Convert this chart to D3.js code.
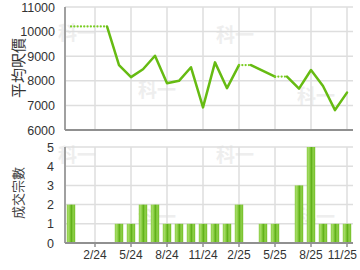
<!DOCTYPE html>
<html><head><meta charset="utf-8">
<script src="https://cdn.jsdelivr.net/npm/d3@7"></script>
<style>
html,body{margin:0;padding:0;background:#fff;}
svg{display:block;font-family:"Liberation Sans",Arial,sans-serif;}
</style></head>
<body><svg id="c" width="360" height="270"></svg>
<script>
const months = ["12/23","1/24","2/24","3/24","4/24","5/24","6/24","7/24","8/24","9/24","10/24","11/24",
  "12/24","1/25","2/25","3/25","4/25","5/25","6/25","7/25","8/25","9/25","10/25","11/25"];
const avgPrice = [10210,10210,10210,10210,8640,8150,8470,9020,7900,8000,8550,6920,
  8750,7700,8640,8640,8400,8170,8170,7680,8440,7790,6810,7520];
const deals = [2,0,0,0,1,1,2,2,1,1,1,1,1,1,2,0,1,1,0,3,5,1,1,1];
const xTickLabels = ["2/24","5/24","8/24","11/24","2/25","5/25","8/25","11/25"];
const priceTicks = [6000,7000,8000,9000,10000,11000];
const dealTicks = [0,1,2,3,4,5];
const priceTitle = "平均呎價";
const dealTitle = "成交宗數";
const watermark = "科一";

const svg = d3.select("#c");
const L = 65, R = 353;
const top1 = 7, bot1 = 130, top2 = 147, bot2 = 243;

const x = d3.scaleBand().domain(months).range([L, R]).paddingInner(0.3).paddingOuter(0.15);
const xc = m => x(m) + x.bandwidth()/2;
const y1 = d3.scaleLinear().domain([6000,11000]).range([bot1, top1]);
const y2 = d3.scaleLinear().domain([0,5]).range([bot2, top2]);

// watermarks
const wm = [[58,40],[138,97],[216,42],[297,103],[58,162],[138,224],[216,162],[297,224]];
svg.append("g").selectAll("text").data(wm).join("text")
  .attr("x",d=>d[0]).attr("y",d=>d[1]).text(watermark)
  .attr("font-size",19).attr("font-weight","bold").attr("fill","#eeeeee")
  .attr("font-family","'Noto Sans CJK TC',sans-serif");

function grid(y, ticks, yTop, yBot) {
  const g = svg.append("g");
  g.selectAll("line.h").data(ticks).join("line")
    .attr("x1", L).attr("x2", R).attr("y1", d=>y(d)).attr("y2", d=>y(d))
    .attr("stroke", "#dedede").attr("stroke-width", 1.5);
  g.selectAll("line.v").data(xTickLabels).join("line")
    .attr("x1", d=>xc(d)).attr("x2", d=>xc(d)).attr("y1", yTop).attr("y2", yBot)
    .attr("stroke", "#dedede").attr("stroke-width", 1.5);
}
grid(y1, priceTicks, top1, bot1);
grid(y2, dealTicks, top2, bot2);

// y axes
const ax1 = svg.append("g").attr("transform",`translate(${L},0)`)
  .call(d3.axisLeft(y1).tickValues(priceTicks).tickFormat(d3.format("d")).tickSize(0).tickPadding(10));
const ax2 = svg.append("g").attr("transform",`translate(${L},0)`)
  .call(d3.axisLeft(y2).tickValues(dealTicks).tickFormat(d3.format("d")).tickSize(0).tickPadding(11));
[ax1, ax2].forEach(a => {
  a.select(".domain").attr("stroke","#a0a0a0").attr("stroke-width",2);
  a.selectAll("text").attr("font-size",12.5).attr("fill","#333").attr("font-family","'Liberation Sans',Arial,sans-serif");
});
ax1.select(".domain").attr("d", `M0,${top1}V${bot1}`);
ax2.select(".domain").attr("d", `M0,${top2}V${bot2}`);

// bars
const grad = svg.append("defs").append("linearGradient").attr("id","bg").attr("x1","0").attr("x2","1").attr("y1","0").attr("y2","0");
[[0,"#7cc62e"],[0.15,"#a8dc6a"],[0.35,"#8ccf45"],[0.55,"#5fb018"],[0.75,"#8fd04a"],[1,"#72be26"]]
  .forEach(s => grad.append("stop").attr("offset",s[0]).attr("stop-color",s[1]));
svg.append("g").selectAll("rect").data(months.map((m,i)=>({m, v:deals[i]})).filter(d=>d.v>0)).join("rect")
  .attr("x", d=>x(d.m)).attr("width", x.bandwidth())
  .attr("y", d=>y2(d.v)).attr("height", d=>y2(0)-y2(d.v))
  .attr("fill","url(#bg)");

// x axis bottom chart
const axx = svg.append("g").attr("transform",`translate(0,${bot2})`)
  .call(d3.axisBottom(x).tickValues(xTickLabels).tickSize(4).tickPadding(3));
axx.select(".domain").attr("d",`M${L},0H${R}`).attr("stroke","#909090").attr("stroke-width",2);
axx.selectAll(".tick line").attr("stroke","#909090").attr("stroke-width",1.5);
axx.selectAll("text").attr("font-size",12).attr("fill","#333").attr("font-family","'Liberation Sans',Arial,sans-serif");
axx.selectAll(".tick").filter(d => d === "11/25").select("text").attr("text-anchor","end").attr("dx","10");

// bottom axis of top chart
svg.append("line").attr("x1",L).attr("x2",R).attr("y1",bot1).attr("y2",bot1)
  .attr("stroke","#909090").attr("stroke-width",2);

// price line: segment into a month without deals is dotted
const segs = [];
for (let i = 1; i < months.length; i++) {
  segs.push({a:i-1, b:i, dotted: deals[i] === 0});
}
const lineG = svg.append("g").attr("fill","none").attr("stroke","#66bb12").attr("stroke-linecap","round").attr("stroke-linejoin","round");
let cur = null; const paths = [];
segs.forEach(s => {
  if (!cur || cur.dotted !== s.dotted) { cur = {dotted:s.dotted, idx:[s.a]}; paths.push(cur); }
  cur.idx.push(s.b);
});
const line = d3.line().x(i=>xc(months[i])).y(i=>y1(avgPrice[i]));
paths.forEach(p => {
  const el = lineG.append("path").attr("d", line(p.idx));
  if (p.dotted) el.attr("stroke-dasharray","0.1,3.2").attr("stroke","#7acc22").attr("stroke-width",2.2);
  else el.attr("stroke-width",2.5);
});

// titles
svg.append("text").attr("transform","translate(24,68) rotate(-90)").attr("text-anchor","middle")
  .attr("font-size",15).attr("fill","#333").attr("font-family","'Noto Sans CJK TC',sans-serif").text(priceTitle);
svg.append("text").attr("transform","translate(23,193) rotate(-90)").attr("text-anchor","middle")
  .attr("font-size",13).attr("fill","#444").attr("font-family","'Noto Sans CJK TC',sans-serif").text(dealTitle);
</script></body></html>
